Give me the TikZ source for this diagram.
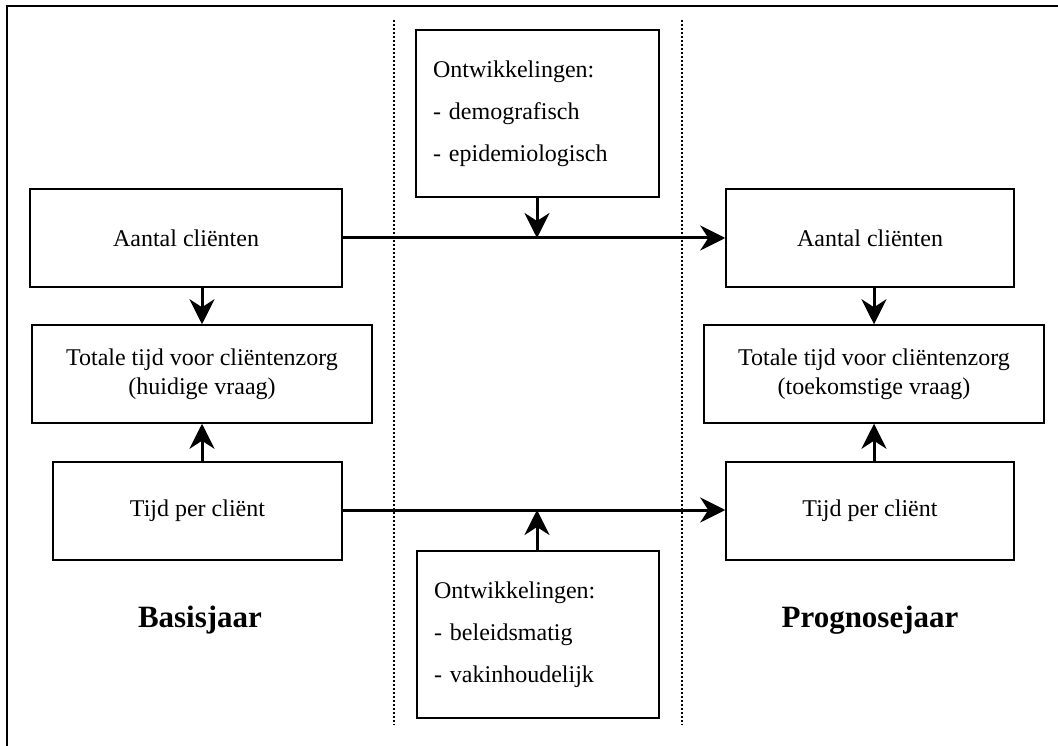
\documentclass[tikz,border=0pt]{standalone}
\usepackage{fontspec}
\setmainfont{Liberation Serif}
\usetikzlibrary{arrows.meta}
\tikzset{
  box/.style={draw, line width=1.5pt, rectangle, inner sep=0pt, font=\fontsize{24}{29}\selectfont, align=center},
  devbox/.style={draw, line width=1.5pt, rectangle, inner sep=0pt, font=\fontsize{24}{42}\selectfont, align=left},
  arr/.style={line width=3pt, -{Stealth[length=25pt,width=25pt,inset=8pt]}},
  sep/.style={line width=2pt, dash pattern=on 2pt off 2pt},
  frame/.style={line width=2pt},
  yearlbl/.style={font=\fontsize{31}{36}\selectfont\bfseries}
}
\begin{document}
\begin{tikzpicture}[x=1pt,y=-1pt]
\useasboundingbox (0,0) rectangle (1058,746);
% outer frame (top and left edges only)
\coordinate (fa) at (7,746);
\coordinate (fb) at (7,6);
\coordinate (fc) at (1058,6);
\draw[frame] (fa) -- (fb) -- (fc);
% dotted separators
\coordinate (s1t) at (394,20);
\coordinate (s1b) at (394,725);
\coordinate (s2t) at (682,20);
\coordinate (s2b) at (682,725);
\draw[sep] (s1t) -- (s1b);
\draw[sep] (s2t) -- (s2b);
% left column
\node[box, minimum width=312pt, minimum height=98pt] (la) at (186,238) {Aantal cliënten};
\node[box, minimum width=340pt, minimum height=98pt] (lt) at (202,374) {Totale tijd voor cliëntenzorg\\(huidige vraag)};
\node[box, minimum width=289pt, minimum height=98pt] (lp) at (197.5,511) {Tijd per cliënt};
% right column
\node[box, minimum width=288pt, minimum height=98pt] (ra) at (870,238) {Aantal cliënten};
\node[box, minimum width=340pt, minimum height=98pt] (rt) at (874,374) {Totale tijd voor cliëntenzorg\\(toekomstige vraag)};
\node[box, minimum width=288pt, minimum height=98pt] (rp) at (870,511) {Tijd per cliënt};
% development boxes
\node[devbox, minimum width=243pt, minimum height=167pt, text width=209pt] (dt) at (537.5,113.5) {Ontwikkelingen:\\- demografisch\\- epidemiologisch};
\node[devbox, minimum width=242pt, minimum height=167pt, text width=208pt] (db) at (538,634.5) {Ontwikkelingen:\\- beleidsmatig\\- vakinhoudelijk};
% year labels
\node[yearlbl] (by) at (200,620) {Basisjaar};
\node[yearlbl] (py) at (870,620) {Prognosejaar};
% connectors
\draw[arr] (la.east) -- (ra.west);
\draw[arr] (lp.east |- 0,510) -- (rp.west |- 0,510);
\coordinate (mt) at (537,238);
\coordinate (mb) at (537,510);
\draw[arr] (dt.south -| mt) -- (mt);
\draw[arr] (db.north -| mb) -- (mb);
\draw[arr] (la.south -| lt.north) -- (lt.north);
\draw[arr] (lp.north -| lt.south) -- (lt.south);
\draw[arr] (ra.south -| rt.north) -- (rt.north);
\draw[arr] (rp.north -| rt.south) -- (rt.south);
\end{tikzpicture}
\end{document}
